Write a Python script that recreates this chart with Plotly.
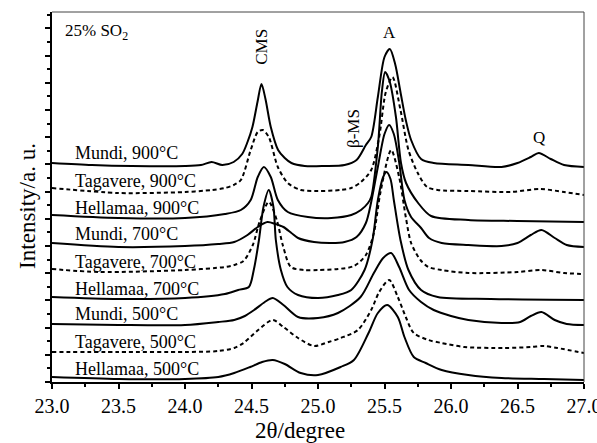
import plotly.graph_objects as go

# 2theta (degree) and intensity (a.u., offset stacked)
mundi900_x = [23.0, 23.3, 23.6, 24.0, 24.12, 24.2, 24.28, 24.366, 24.43, 24.47, 24.507, 24.545, 24.575, 24.605, 24.645, 24.7, 24.75, 24.8, 24.9, 25.05, 25.2, 25.29, 25.36, 25.4, 25.45, 25.5, 25.54, 25.58, 25.62, 25.66, 25.7, 25.775, 25.87, 26.13, 26.38, 26.5, 26.6, 26.66, 26.75, 26.85, 27.0]
mundi900_y = [219, 217, 216, 216, 217, 220, 217, 220, 228, 240, 255, 280, 298, 283, 255, 232, 224, 219, 216, 216, 217, 222, 237, 245, 285, 325, 333, 318, 290, 262, 242, 223, 219, 217, 215, 219, 225, 229, 223, 217, 215]

tagavere900_x = [23.0, 23.5, 24.0, 24.2, 24.3, 24.366, 24.42, 24.494, 24.547, 24.585, 24.63, 24.698, 24.773, 24.871, 25.0, 25.17, 25.25, 25.323, 25.4, 25.46, 25.51, 25.56, 25.62, 25.68, 25.75, 25.82, 25.9, 26.13, 26.45, 26.67, 26.85, 27.0]
tagavere900_y = [194, 189, 190, 192, 194, 197, 202, 232, 250, 252, 245, 215, 199, 192, 191, 192, 194, 200, 212, 245, 290, 305, 272, 232, 209, 195, 192, 191, 190, 193, 190, 187]

hellamaa900_x = [23.0, 23.5, 24.0, 24.3, 24.42, 24.494, 24.547, 24.593, 24.645, 24.698, 24.773, 24.924, 25.1, 25.25, 25.323, 25.376, 25.4, 25.45, 25.48, 25.505, 25.54, 25.586, 25.624, 25.662, 25.753, 25.85, 26.13, 26.5, 27.0]
hellamaa900_y = [167, 164, 164, 168, 172, 182, 205, 215, 205, 182, 170, 165, 164, 167, 172, 179, 185, 235, 290, 310, 300, 265, 219, 199, 179, 166, 162, 161, 160]

mundi700_x = [23.0, 23.5, 24.0, 24.25, 24.37, 24.47, 24.547, 24.62, 24.68, 24.74, 24.8, 24.85, 24.97, 25.1, 25.2, 25.29, 25.36, 25.4, 25.45, 25.5, 25.535, 25.57, 25.61, 25.65, 25.7, 25.775, 25.835, 25.93, 26.13, 26.38, 26.5, 26.6, 26.68, 26.78, 26.87, 27.0]
mundi700_y = [139, 135, 136, 138, 140, 147, 155, 160, 158, 155, 149, 144, 140, 139, 140, 145, 159, 180, 215, 248, 257, 248, 220, 182, 165, 154, 144, 139, 137, 136, 139, 147, 152, 144, 137, 135]

tagavere700_x = [23.0, 23.35, 24.0, 24.3, 24.37, 24.44, 24.51, 24.56, 24.63, 24.69, 24.735, 24.796, 24.895, 25.0, 25.15, 25.27, 25.36, 25.42, 25.47, 25.55, 25.61, 25.66, 25.7, 25.77, 25.83, 25.93, 26.13, 26.5, 26.68, 26.85, 27.0]
tagavere700_y = [113, 110, 112, 115, 117, 121, 137, 160, 180, 162, 137, 115, 112, 112, 113, 116, 127, 149, 190, 232, 205, 165, 139, 122, 115, 112, 109, 110, 112, 109, 108]

hellamaa700_x = [23.0, 23.5, 24.0, 24.3, 24.4, 24.48, 24.517, 24.556, 24.59, 24.63, 24.665, 24.683, 24.721, 24.77, 24.85, 25.0, 25.15, 25.25, 25.35, 25.41, 25.45, 25.49, 25.515, 25.545, 25.57, 25.62, 25.68, 25.775, 25.9, 26.3, 27.0]
hellamaa700_y = [85, 83, 84, 88, 92, 95, 112, 142, 175, 192, 175, 142, 112, 95, 87, 84, 87, 92, 112, 142, 182, 205, 210, 203, 182, 142, 112, 92, 85, 83, 82]

mundi500_x = [23.0, 23.5, 24.0, 24.25, 24.37, 24.45, 24.52, 24.6, 24.66, 24.74, 24.85, 25.0, 25.15, 25.32, 25.42, 25.49, 25.55, 25.61, 25.685, 25.775, 25.87, 26.0, 26.13, 26.38, 26.52, 26.6, 26.68, 26.78, 26.87, 27.0]
mundi500_y = [58, 57, 57, 60, 62, 66, 72, 80, 84, 77, 65, 64, 69, 85, 109, 124, 129, 115, 92, 80, 72, 66, 62, 59, 60, 66, 70, 62, 58, 57]

tagavere500_x = [23.0, 23.5, 24.0, 24.25, 24.37, 24.44, 24.55, 24.66, 24.74, 24.85, 24.97, 25.08, 25.17, 25.3, 25.4, 25.46, 25.535, 25.6, 25.66, 25.72, 25.83, 25.93, 26.1, 26.4, 26.6, 26.7, 26.8, 27.0]
tagavere500_y = [30, 30, 30, 31, 34, 39, 52, 62, 55, 44, 36, 40, 44, 52, 72, 90, 102, 85, 65, 49, 42, 39, 35, 34, 35, 36, 34, 29]

hellamaa500_x = [23.0, 23.5, 24.0, 24.25, 24.37, 24.49, 24.58, 24.66, 24.75, 24.87, 25.0, 25.17, 25.27, 25.38, 25.45, 25.52, 25.6, 25.65, 25.72, 25.81, 25.93, 26.13, 26.38, 26.7, 27.0]
hellamaa500_y = [5, 3, 3, 5, 9, 15, 20, 22, 18, 9, 7, 15, 22, 49, 69, 77, 65, 45, 25, 19, 12, 7, 4, 3, 2]

series_names = ["Mundi, 900°C", "Tagavere, 900°C", "Hellamaa, 900°C",
                "Mundi, 700°C", "Tagavere, 700°C", "Hellamaa, 700°C",
                "Mundi, 500°C", "Tagavere, 500°C", "Hellamaa, 500°C"]
series_x = [mundi900_x, tagavere900_x, hellamaa900_x, mundi700_x, tagavere700_x,
            hellamaa700_x, mundi500_x, tagavere500_x, hellamaa500_x]
series_y = [mundi900_y, tagavere900_y, hellamaa900_y, mundi700_y, tagavere700_y,
            hellamaa700_y, mundi500_y, tagavere500_y, hellamaa500_y]
label_y = [229, 201, 174, 148, 120, 93, 68, 40, 13.5]

x_ticks = [23.0, 23.5, 24.0, 24.5, 25.0, 25.5, 26.0, 26.5, 27.0]
x_ticktext = ["23.0", "23.5", "24.0", "24.5", "25.0", "25.5", "26.0", "26.5", "27.0"]

peak_labels = ["CMS", "A", "β-MS", "Q"]
peak_x = [24.57, 25.535, 25.263, 26.665]
peak_y = [335, 350, 254, 245]
peak_angle = [-90, 0, -90, 0]

FONT = "Liberation Serif, Times New Roman, serif"

fig = go.Figure()
for name, xs, ys in zip(series_names, series_x, series_y):
    dash = "4px,3px" if name.startswith("Tagavere") else "solid"
    fig.add_trace(go.Scatter(x=xs, y=ys, mode="lines", name=name,
                             line=dict(color="black", width=2, dash=dash,
                                       shape="spline", smoothing=0.8),
                             showlegend=False))

annotations = []
for name, ly in zip(series_names, label_y):
    annotations.append(dict(x=23.16, y=ly, xref="x", yref="y", text=name,
                            showarrow=False, xanchor="left", yanchor="middle",
                            font=dict(family=FONT, size=18, color="black")))
for t, px, py, ang in zip(peak_labels, peak_x, peak_y, peak_angle):
    annotations.append(dict(x=px, y=py, xref="x", yref="y", text=t, textangle=ang,
                            showarrow=False, xanchor="center", yanchor="middle",
                            font=dict(family=FONT, size=17, color="black")))
annotations.append(dict(x=23.085, y=350, xref="x", yref="y", text="25% SO<sub>2</sub>",
                        showarrow=False, xanchor="left", yanchor="middle",
                        font=dict(family=FONT, size=17, color="black")))
# axis titles
annotations.append(dict(x=0, y=0.476, xref="paper", yref="paper", xshift=-24,
                        text="Intensity/a. u.", textangle=-90, showarrow=False,
                        xanchor="center", yanchor="middle",
                        font=dict(family=FONT, size=23, color="black")))
annotations.append(dict(x=0.466, y=0, xref="paper", yref="paper", yshift=-48,
                        text="2θ/degree", showarrow=False,
                        xanchor="center", yanchor="middle",
                        font=dict(family=FONT, size=23, color="black")))

fig.update_layout(
    width=597, height=443,
    margin=dict(l=52, r=13, t=12, b=61, autoexpand=False),
    plot_bgcolor="white", paper_bgcolor="white",
    annotations=annotations,
    shapes=[
        dict(type="line", xref="paper", yref="paper", x0=0, x1=1, y0=1, y1=1,
             line=dict(color="#444", width=1)),
        dict(type="line", xref="paper", yref="paper", x0=1, x1=1, y0=0, y1=1,
             line=dict(color="#444", width=1)),
    ],
    xaxis=dict(range=[23, 27], tickvals=x_ticks, ticktext=x_ticktext,
               ticklabeloverflow="allow", automargin=False,
               showgrid=False, zeroline=False, showline=True, linecolor="black",
               linewidth=2, ticks="outside", ticklen=5, tickwidth=1.5, tickcolor="black",
               minor=dict(dtick=0.25, tick0=23, ticks="outside", ticklen=3, tickcolor="black"),
               tickfont=dict(family=FONT, size=20, color="black")),
    yaxis=dict(range=[0, 370], dtick=27.2, tick0=0, showticklabels=False,
               automargin=False,
               showgrid=False, zeroline=False, showline=True, linecolor="black",
               linewidth=2, ticks="outside", ticklen=5, tickwidth=1.5, tickcolor="black",
               minor=dict(dtick=13.6, ticks="outside", ticklen=3, tickcolor="black")),
)

fig.write_html("out.html")
